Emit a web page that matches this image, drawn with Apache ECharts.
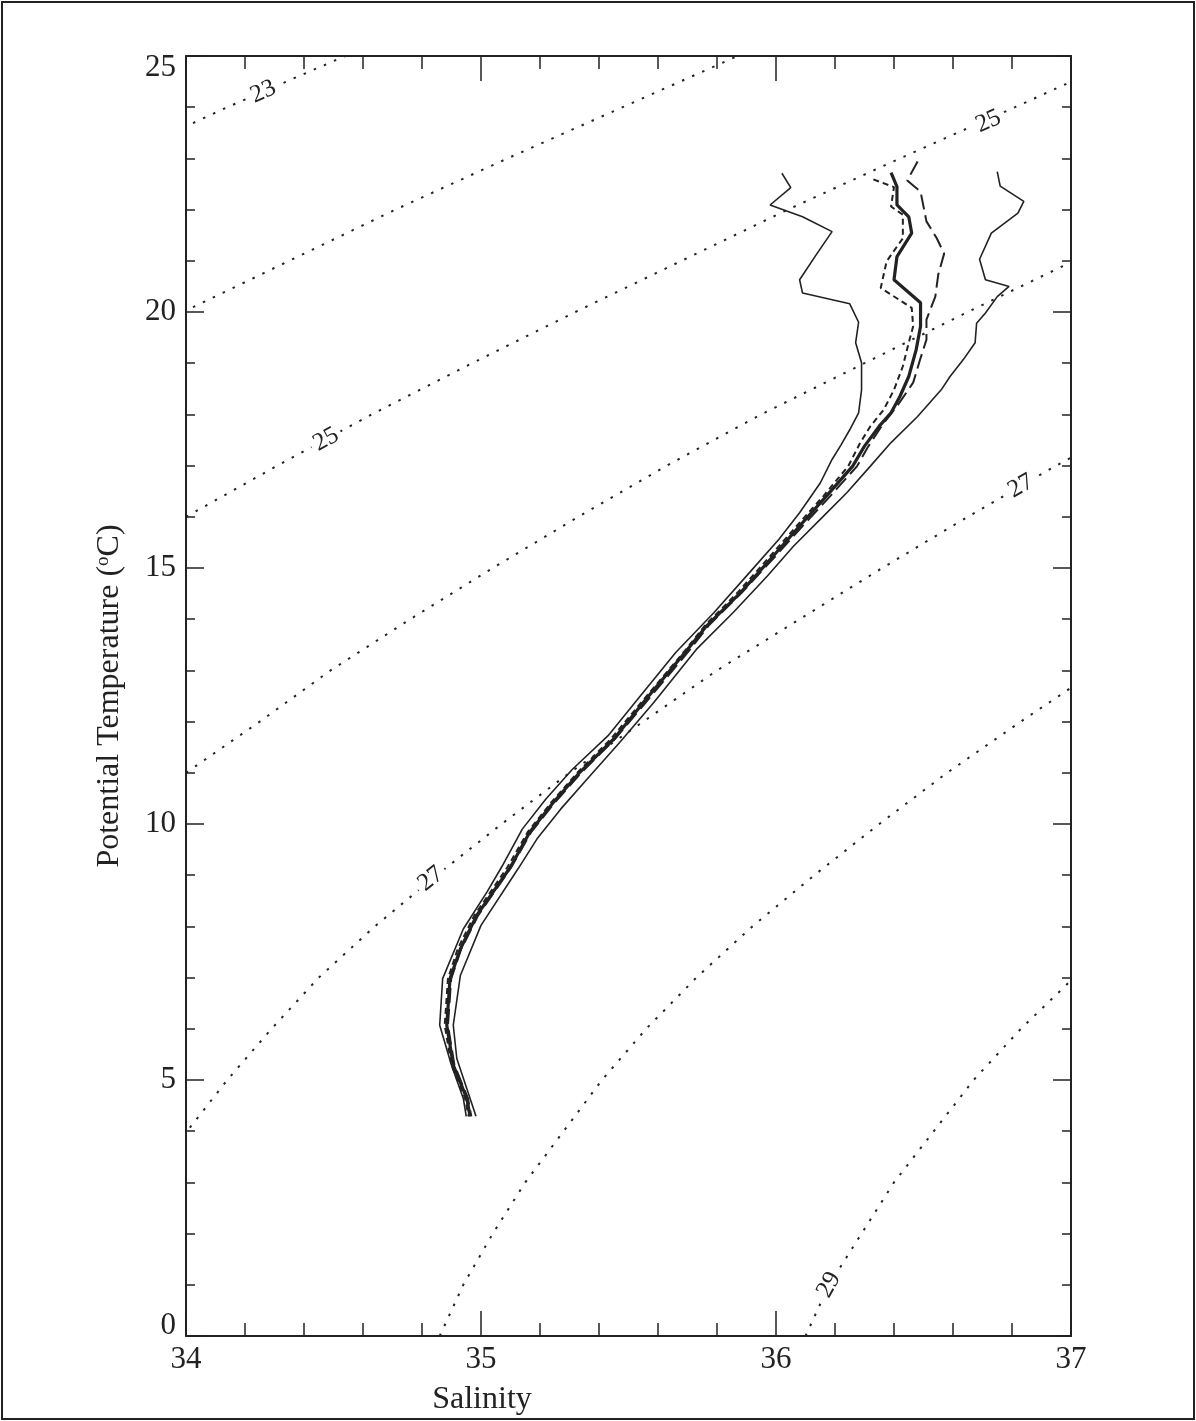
<!DOCTYPE html>
<html>
<head>
<meta charset="utf-8">
<title>Potential Temperature vs Salinity</title>
<script src="https://cdn.jsdelivr.net/npm/echarts@6/dist/echarts.min.js"></script>
<style>
  html, body { margin: 0; padding: 0; background: #fff; }
  #ts { width: 1196px; height: 1421px; }
</style>
</head>
<body>
<div id="ts"></div>
<script>
// T-S profiles, each point is [salinity, potential temperature]
const thinLeft = [
  [36.02, 22.71], [36.05, 22.43], [35.98, 22.09], [36.09, 21.86], [36.19, 21.57], [36.14, 21.15],
  [36.08, 20.63], [36.09, 20.37], [36.25, 20.16], [36.28, 19.80], [36.27, 19.40], [36.29, 19.01],
  [36.29, 18.48], [36.28, 18.03], [36.25, 17.70], [36.22, 17.40], [36.19, 17.12], [36.15, 16.66],
  [36.08, 16.08], [36.01, 15.56], [35.91, 14.91], [35.79, 14.13], [35.66, 13.35], [35.54, 12.50],
  [35.43, 11.72], [35.31, 11.07], [35.22, 10.49], [35.14, 9.90], [35.07, 9.16], [35.02, 8.67],
  [34.94, 7.95], [34.87, 6.98], [34.86, 6.07], [34.90, 5.29], [34.94, 4.64], [34.95, 4.29]
]
const thickMean = [
  [36.39, 22.72], [36.41, 22.45], [36.41, 22.09], [36.45, 21.86], [36.46, 21.54], [36.41, 21.08],
  [36.40, 20.63], [36.49, 20.18], [36.49, 19.72], [36.475, 19.26], [36.45, 18.74], [36.42, 18.35],
  [36.39, 18.03], [36.35, 17.77], [36.30, 17.38], [36.26, 16.99], [36.17, 16.40], [36.08, 15.82],
  [35.99, 15.23], [35.88, 14.52], [35.765, 13.87], [35.70, 13.41], [35.56, 12.44], [35.45, 11.66],
  [35.335, 11.01], [35.245, 10.42], [35.165, 9.84], [35.10, 9.16], [34.985, 8.21], [34.93, 7.56],
  [34.895, 6.98], [34.884, 6.07], [34.906, 5.29], [34.952, 4.64], [34.963, 4.29]
]
const thinRight = [
  [36.75, 22.74], [36.76, 22.46], [36.84, 22.16], [36.82, 21.93], [36.73, 21.54], [36.69, 21.03],
  [36.71, 20.63], [36.79, 20.50], [36.75, 20.30], [36.71, 19.98], [36.68, 19.78], [36.675, 19.40],
  [36.635, 19.07], [36.59, 18.74], [36.56, 18.48], [36.48, 17.96], [36.39, 17.45], [36.32, 16.99],
  [36.24, 16.47], [36.15, 15.95], [36.06, 15.43], [35.97, 14.84], [35.855, 14.13], [35.73, 13.41],
  [35.585, 12.37], [35.47, 11.59], [35.36, 10.88], [35.27, 10.29], [35.19, 9.71], [35.125, 9.12],
  [35.00, 8.02], [34.93, 7.04], [34.906, 6.07], [34.918, 5.42], [34.963, 4.64], [34.983, 4.29]
]
const shortDash = [
  [36.33, 22.59], [36.40, 22.44], [36.39, 22.06], [36.43, 21.90], [36.43, 21.44], [36.375, 20.99],
  [36.355, 20.47], [36.46, 20.08], [36.465, 19.72], [36.45, 19.40], [36.43, 18.94], [36.40, 18.48],
  [36.365, 18.09], [36.32, 17.77], [36.285, 17.44], [36.245, 16.99], [36.16, 16.40], [36.07, 15.82],
  [35.98, 15.23], [35.87, 14.52], [35.758, 13.87], [35.695, 13.41], [35.553, 12.44], [35.44, 11.66],
  [35.328, 11.01], [35.238, 10.42], [35.158, 9.84], [35.09, 9.16], [34.977, 8.21], [34.921, 7.56],
  [34.888, 6.98], [34.877, 6.07], [34.90, 5.29], [34.946, 4.64], [34.958, 4.29]
]
const longDash = [
  [36.48, 22.94], [36.445, 22.57], [36.49, 22.35], [36.51, 21.77], [36.545, 21.44], [36.57, 21.14],
  [36.55, 20.73], [36.54, 20.30], [36.51, 19.85], [36.51, 19.46], [36.49, 19.10], [36.465, 18.62],
  [36.41, 18.16], [36.365, 17.83], [36.31, 17.35], [36.275, 16.99], [36.183, 16.40], [36.09, 15.82],
  [35.998, 15.23], [35.884, 14.52], [35.771, 13.87], [35.709, 13.41], [35.568, 12.44], [35.454, 11.66],
  [35.341, 11.01], [35.25, 10.42], [35.17, 9.84], [35.103, 9.16], [34.99, 8.21], [34.933, 7.56],
  [34.899, 6.98], [34.888, 6.07], [34.91, 5.29], [34.956, 4.64], [34.967, 4.29]
]

// sigma-theta isopycnals (dotted)
const iso23 = [[33.99, 23.6], [34.14, 24.0], [34.34, 24.5], [34.54, 25.0]]
const iso24 = [[33.99, 20.0], [34.35, 21.0], [34.71, 22.0], [35.09, 23.0], [35.48, 24.0], [35.87, 25.0]]
const iso25 = [[34.0, 16.0], [34.31, 17.0], [34.63, 18.0], [34.97, 19.0], [35.32, 20.0], [35.68, 21.0],
  [36.04, 22.0], [36.42, 23.0], [36.81, 24.0], [37.02, 24.55]]
const iso26 = [[34.0, 11.0], [34.25, 12.0], [34.49, 13.0], [34.76, 14.0], [35.04, 15.0], [35.33, 16.0],
  [35.63, 17.0], [35.95, 18.0], [36.3, 19.0], [36.65, 20.0], [37.01, 21.0]]
const iso27 = [[33.99, 3.9], [34.14, 5.0], [34.29, 6.0], [34.45, 7.0], [34.64, 8.0], [34.85, 9.0],
  [35.07, 10.0], [35.3, 11.0], [35.55, 12.0], [35.8, 13.0], [36.08, 14.0], [36.36, 15.0],
  [36.65, 16.0], [36.95, 17.0], [37.03, 17.25]]
const iso28 = [[34.86, 0.0], [34.94, 1.0], [35.04, 2.0], [35.15, 3.0], [35.28, 4.0], [35.41, 5.0],
  [35.56, 6.0], [35.73, 7.0], [35.92, 8.0], [36.13, 9.0], [36.35, 10.0], [36.58, 11.0],
  [36.83, 12.0], [37.01, 12.7]]
const iso29 = [[36.1, 0.0], [36.18, 1.0], [36.29, 2.0], [36.4, 3.0], [36.535, 4.0], [36.67, 5.0],
  [36.83, 6.0], [37.01, 7.0]]

// contour labels: salinity, temperature, angle (deg), text
const labelPos = [
  [34.262, 24.30, 24],
  [34.475, 17.51, 29],
  [36.72, 23.72, 24],
  [34.83, 8.93, 39],
  [36.83, 16.60, 30],
  [36.18, 1.0, 61]
]
const labelText = ['23', '25', '25', '27', '27', '29']

const salTicks = [34, 35, 36, 37]
const tempTicks = [0, 5, 10, 15, 20, 25]

const serif = '"Liberation Serif", "DejaVu Serif", serif'
const ink = '#222'

let chart = echarts.init(document.getElementById('ts'))

function isoSeries(data) {
  return {
    type: 'line',
    data: data,
    showSymbol: false,
    symbol: 'none',
    clip: true,
    lineStyle: { color: '#222', width: 2, type: [2.5, 8.5] },
    z: 1
  }
}

function profile(data, width, type) {
  return {
    type: 'line',
    data: data,
    showSymbol: false,
    symbol: 'none',
    lineStyle: { color: ink, width: width, type: type },
    z: 3
  }
}

const xAxisBase = {
  type: 'value',
  min: salTicks[0],
  max: salTicks[salTicks.length - 1],
  interval: 1,
  splitLine: { show: false },
  axisLine: { show: true, onZero: false, lineStyle: { color: ink, width: 2 } },
  axisTick: { inside: true, length: 25, lineStyle: { color: ink, width: 1.5 } },
  minorTick: { show: true, splitNumber: 5, length: 13, lineStyle: { color: ink, width: 1.5 } }
}
const yAxisBase = {
  type: 'value',
  min: tempTicks[0],
  max: tempTicks[tempTicks.length - 1],
  interval: 5,
  splitLine: { show: false },
  axisLine: { show: true, onZero: false, lineStyle: { color: ink, width: 2 } },
  axisTick: { inside: true, length: 18, lineStyle: { color: ink, width: 1.5 } },
  minorTick: { show: true, splitNumber: 5, length: 9, lineStyle: { color: ink, width: 1.5 } }
}

let option = {
  animation: false,
  backgroundColor: '#fff',
  grid: { left: 186, right: 125, top: 56, bottom: 83 },
  xAxis: [
    Object.assign({}, xAxisBase, {
      position: 'bottom',
      name: 'Salinity',
      nameLocation: 'middle',
      nameGap: 48,
      nameTextStyle: { fontFamily: serif, fontSize: 32, color: ink, padding: [0, 293, 0, 0] },
      axisLabel: { fontFamily: serif, fontSize: 31, color: ink, margin: 8 }
    }),
    Object.assign({}, xAxisBase, { position: 'top', axisLabel: { show: false } })
  ],
  yAxis: [
    Object.assign({}, yAxisBase, {
      position: 'left',
      name: 'Potential Temperature ({sup|o}C)',
      nameLocation: 'middle',
      nameGap: 60,
      nameRotate: 90,
      nameTextStyle: {
        fontFamily: serif, fontSize: 32, color: ink,
        rich: { sup: { fontFamily: serif, fontSize: 19, color: ink, verticalAlign: 'top', padding: [0, 0, 12, 0] } }
      },
      axisLabel: {
        fontFamily: serif, fontSize: 31, color: ink, margin: 10,
        formatter: function (v) {
          if (v === 25) return '{top|25}'
          if (v === 0) return '{bot|0}'
          return v
        },
        rich: {
          top: { fontFamily: serif, fontSize: 31, color: ink, padding: [23, 0, 0, 0] },
          bot: { fontFamily: serif, fontSize: 31, color: ink, padding: [0, 0, 20, 0] }
        }
      }
    }),
    Object.assign({}, yAxisBase, { position: 'right', axisLabel: { show: false } })
  ],
  graphic: [
    {
      type: 'rect',
      shape: { x: 2, y: 2, width: 1192, height: 1417 },
      style: { fill: 'none', stroke: ink, lineWidth: 2 },
      silent: true
    }
  ],
  series: [
    isoSeries(iso23), isoSeries(iso24), isoSeries(iso25), isoSeries(iso26),
    isoSeries(iso27), isoSeries(iso28), isoSeries(iso29),
    {
      // contour labels, drawn along each isopycnal and masking the dots
      type: 'custom',
      z: 4,
      data: labelPos,
      renderItem: function (params, api) {
        const p = api.coord([api.value(0), api.value(1)])
        return {
          type: 'text',
          x: p[0],
          y: p[1],
          rotation: api.value(2) * Math.PI / 180,
          style: {
            text: labelText[params.dataIndex],
            fontFamily: serif,
            fontSize: 25,
            fill: ink,
            align: 'center',
            verticalAlign: 'middle',
            backgroundColor: '#fff',
            padding: [0, 4]
          }
        }
      }
    },
    profile(thinLeft, 1.6, 'solid'),
    profile(thinRight, 1.6, 'solid'),
    profile(shortDash, 2, [6, 4]),
    profile(longDash, 2, [15, 6]),
    profile(thickMean, 3.2, 'solid')
  ]
}

chart.setOption(option)
</script>
</body>
</html>
